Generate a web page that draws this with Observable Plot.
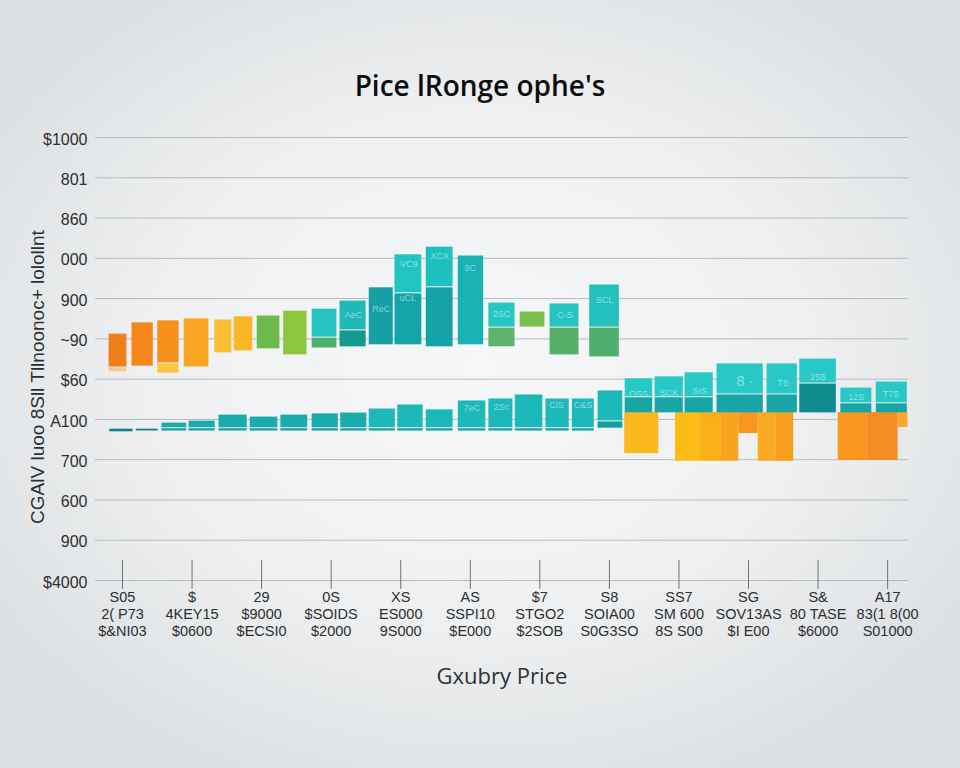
<!DOCTYPE html>
<html>
<head>
<meta charset="utf-8">
<script src="https://cdn.jsdelivr.net/npm/d3@7"></script>
<script src="https://cdn.jsdelivr.net/npm/@observablehq/plot@0.6"></script>
<style>
  html, body { margin: 0; padding: 0; width: 960px; height: 768px; overflow: hidden;
    background: radial-gradient(ellipse 62% 60% at 50% 48%, #f6f7f8 0%, #eef0f1 55%, #dcdfe2 100%); }
  #title { height: 120px; box-sizing: border-box; padding-top: 67px; text-align: center;
    font: 600 28px/36px "Open Sans", Lato, sans-serif; color: #0c0c0c; letter-spacing: 0px; }
  #chart svg { display: block; overflow: visible; }
</style>
</head>
<body>
<div id="title">Pice lRonge ophe's</div>
<div id="chart"></div>
<script>
// ---------- texts ----------
const chartTitle = "Pice lRonge ophe's";
const xTitle = "Gxubry Price";
const yTitle = "CGAlV luoo 8Sll Tllnoonoc+ lolollnt";
const yTickLabels = ["$4000", "900", "600", "700", "A100", "$60", "~90", "900", "000", "860", "801", "$1000"];
const xTickLabels = [
  "S05\n2( P73\n$&NI03", "$\n4KEY15\n$0600", "29\n$9000\n$ECSI0", "0S\n$SOIDS\n$2000",
  "XS\nES000\n9S000", "AS\nSSPI10\n$E000", "$7\nSTGO2\n$2SOB", "S8\nSOIA00\nS0G3SO",
  "SS7\nSM 600\n8S S00", "SG\nSOV13AS\n$I E00", "S&\n80 TASE\n$6000", "A17\n83(1 8(00\nS01000"
];

// ---------- upper floating range bars ----------
const upperStart = [0.80, 1.13, 1.50, 1.88, 2.32, 2.60, 2.93, 3.31, 3.72, 4.12, 4.54, 4.91, 5.36, 5.82, 6.26, 6.71, 7.14, 7.71];
const upperEnd   = [1.07, 1.45, 1.82, 2.25, 2.58, 2.88, 3.27, 3.66, 4.09, 4.51, 4.90, 5.31, 5.76, 6.20, 6.65, 7.08, 7.57, 8.15];
const upperLow   = [5.29, 5.31, 5.39, 5.29, 5.64, 5.69, 5.74, 5.59, 5.76, 5.79, 5.84, 5.84, 5.79, 5.84, 5.79, 6.28, 5.59, 5.54];
const upperSplit = [5.29, 5.31, 5.39, 5.29, 5.64, 5.69, 5.74, 5.59, 6.03, 6.21, 5.84, 7.13, 7.28, 5.84, 6.28, 6.28, 6.28, 6.28];
const upperHigh  = [6.13, 6.41, 6.46, 6.51, 6.48, 6.56, 6.58, 6.70, 6.75, 6.95, 7.28, 8.10, 8.29, 8.07, 6.90, 6.68, 6.88, 7.35];
const upperFloor = [5.17, 5.31, 5.14, 5.29, 5.64, 5.69, 5.74, 5.59, 5.76, 5.79, 5.84, 5.84, 5.79, 5.84, 5.79, 6.28, 5.59, 5.54];

// ---------- lower teal bars ----------
const lowerStart = [0.81, 1.19, 1.56, 1.95, 2.38, 2.83, 3.27, 3.72, 4.13, 4.54, 4.95, 5.36, 5.82, 6.26, 6.64, 7.08, 7.46, 7.83, 8.22, 8.65, 9.08, 9.54, 10.26, 10.73, 11.32, 11.83];
const lowerEnd   = [1.16, 1.52, 1.93, 2.34, 2.80, 3.24, 3.67, 4.11, 4.52, 4.93, 5.33, 5.76, 6.23, 6.62, 7.05, 7.43, 7.79, 8.20, 8.63, 9.07, 9.50, 10.22, 10.71, 11.27, 11.78, 12.29];
const lowerBase  = [3.68, 3.70, 3.70, 3.70, 3.70, 3.70, 3.70, 3.70, 3.70, 3.70, 3.70, 3.70, 3.70, 3.70, 3.70, 3.70, 3.70, 3.77, 4.15, 4.15, 4.15, 4.15, 4.15, 4.15, 4.15, 4.15];
const lowerSplit = [3.68, 3.70, 3.78, 3.78, 3.78, 3.78, 3.78, 3.78, 3.78, 3.78, 3.78, 3.78, 3.78, 3.78, 3.78, 3.78, 3.78, 3.95, 4.55, 4.55, 4.55, 4.62, 4.62, 4.89, 4.40, 4.40];
const lowerTop   = [3.77, 3.77, 3.92, 3.97, 4.12, 4.07, 4.12, 4.15, 4.17, 4.27, 4.37, 4.25, 4.47, 4.52, 4.62, 4.52, 4.52, 4.72, 5.02, 5.07, 5.17, 5.39, 5.39, 5.51, 4.79, 4.94];

// ---------- lower orange bars (below the teal row) ----------
const orangeStart = [8.22, 8.95, 9.31, 9.60, 9.86, 10.14, 10.40, 11.29, 11.70, 12.15];
const orangeEnd   = [8.71, 9.31, 9.60, 9.86, 10.14, 10.40, 10.65, 11.70, 12.15, 12.29];
const orangeTop   = [4.17, 4.17, 4.17, 4.17, 4.17, 4.17, 4.17, 4.17, 4.17, 4.17];
const orangeLow   = [3.15, 2.96, 2.96, 2.96, 3.65, 2.96, 2.96, 2.98, 2.98, 3.80];

// ---------- faint labels inside bars ----------
const barLabelText = ["AeC", "ReC", "uCL", "VC9", "XCX", "9C", "2SC", "C-S", "SCL", "7eC", "2Sc", "ClS", "C&S", "OSS", "SCK", "SrS", "8 ·", "TS", "2S5", "12S", "T7S"];
const barLabelX    = [4.32, 4.72, 5.10, 5.12, 5.56, 6.00, 6.45, 7.36, 7.93, 6.02, 6.45, 7.24, 7.62, 8.42, 8.86, 9.30, 9.95, 10.50, 11.00, 11.55, 12.05];
const barLabelY    = [6.60, 6.75, 7.00, 7.85, 8.05, 7.75, 6.62, 6.58, 6.95, 4.27, 4.30, 4.35, 4.35, 4.62, 4.65, 4.70, 4.95, 4.90, 5.05, 4.55, 4.62];

// ---------- palettes (styling) ----------
const upperTopColors = ["#f07e19", "#f5861b", "#f68f1c", "#f9a622", "#fbbd33", "#fab625", "#6cb94c", "#8cc640",
  "#25c2bf", "#1fbab8", "#169fa4", "#22c4c3", "#1fc0c0", "#18b2b5", "#25c6c3", "#7cbf53", "#25c4c0", "#22c1bd"];
const upperBottomColors = ["#f07e19", "#f5861b", "#f68f1c", "#f9a622", "#fbbd33", "#fab625", "#6cb94c", "#8cc640",
  "#4caf6a", "#139a8c", "#169fa4", "#14a5a9", "#13a2a6", "#18b2b5", "#5db56b", "#7cbf53", "#56b06a", "#4eb06c"];
const upperFloorColors = ["#f8c79a", null, "#fbc63d"];
const lowerTopColors = (i) => i < 2 ? "#177f87" : i < 9 ? "#1aabae" : i < 18 ? "#1db8b9" : "#27c8c5";
const lowerBottomColors = (i) => i < 2 ? "#177f87" : i < 18 ? "#149ea3" : i === 23 ? "#0f8b8e" : "#17a5a6";
const orangeColors = ["#fbb81e", "#fdbc17", "#fbb01a", "#f9a41c", "#f7961c", "#f9ab22", "#f69f1e", "#f7951d", "#f58e20", "#fba72a"];

// ---------- build tables ----------
const upperFloorSegs = upperStart.map((s, i) => ({x1: s, x2: upperEnd[i], y1: upperFloor[i], y2: upperLow[i], fill: upperFloorColors[i]}))
  .filter(d => d.fill && d.y2 > d.y1);
const upperBottomSegs = upperStart.map((s, i) => ({x1: s, x2: upperEnd[i], y1: upperLow[i], y2: upperSplit[i], fill: upperBottomColors[i]}))
  .filter(d => d.y2 > d.y1);
const upperTopSegs = upperStart.map((s, i) => ({x1: s, x2: upperEnd[i], y1: upperSplit[i], y2: upperHigh[i], fill: upperTopColors[i]}));
const lowerBottomSegs = lowerStart.map((s, i) => ({x1: s, x2: lowerEnd[i], y1: lowerBase[i], y2: lowerSplit[i], fill: lowerBottomColors(i)}))
  .filter(d => d.y2 > d.y1);
const lowerTopSegs = lowerStart.map((s, i) => ({x1: s, x2: lowerEnd[i], y1: lowerSplit[i], y2: lowerTop[i], fill: lowerTopColors(i)}));
const orangeSegs = orangeStart.map((s, i) => ({x1: s, x2: orangeEnd[i], y1: orangeLow[i], y2: orangeTop[i], fill: orangeColors[i]}));
const barLabels = barLabelText.map((t, i) => ({text: t, x: barLabelX[i], y: barLabelY[i]}));
const yTicks = d3.range(yTickLabels.length);
const xTicks = d3.range(1, xTickLabels.length + 1);

const font = "'Liberation Sans', Arial, sans-serif";

const chart = Plot.plot({
  width: 960,
  height: 648,
  marginTop: 17,
  marginBottom: 188,
  marginLeft: 95,
  marginRight: 52,
  style: {background: "transparent", fontFamily: font, overflow: "visible"},
  x: {domain: [0.612, 12.30], axis: null},
  y: {domain: [0, 11], axis: null},
  color: {type: "identity"},
  marks: [
    Plot.ruleY(yTicks, {stroke: "#b7babe", strokeWidth: 1}),
    Plot.ruleX(xTicks, {y1: -0.22, y2: 0.5, stroke: "#6f7275", strokeWidth: 1}),
    Plot.text(yTickLabels, {frameAnchor: "left", y: (d, i) => i, dx: -8, dy: 2, textAnchor: "end",
      fontSize: 16, fill: "#2d2f31"}),
    Plot.text(xTickLabels, {x: (d, i) => i + 1, y: 0, dy: 10, lineAnchor: "top", lineHeight: 1.15,
      fontSize: 14.5, fill: "#2d2f31"}),
    Plot.rect(upperFloorSegs, {x1: "x1", x2: "x2", y1: "y1", y2: "y2", fill: "fill", inset: 0.5}),
    Plot.rect(upperBottomSegs, {x1: "x1", x2: "x2", y1: "y1", y2: "y2", fill: "fill", inset: 0.5}),
    Plot.rect(upperTopSegs, {x1: "x1", x2: "x2", y1: "y1", y2: "y2", fill: "fill", inset: 0.5}),
    Plot.rect(orangeSegs, {x1: "x1", x2: "x2", y1: "y1", y2: "y2", fill: "fill"}),
    Plot.rect(lowerBottomSegs, {x1: "x1", x2: "x2", y1: "y1", y2: "y2", fill: "fill", inset: 0.5}),
    Plot.rect(lowerTopSegs, {x1: "x1", x2: "x2", y1: "y1", y2: "y2", fill: "fill", inset: 0.5}),
    Plot.text(barLabels, {x: "x", y: "y", text: "text", fontSize: (d) => d.text.startsWith("8") ? 15 : 9,
      fill: "#e8fbfa", fillOpacity: 0.55}),
    Plot.text([yTitle], {frameAnchor: "left", textAnchor: "middle", lineAnchor: "middle", dx: -58, dy: 18,
      rotate: -90, fontSize: 19, fill: "#2d2f31"}),
    Plot.text([xTitle], {frameAnchor: "bottom", lineAnchor: "middle", dy: 96, fontSize: 22, fill: "#2f3133",
      fontFamily: "'Open Sans', Lato, sans-serif"})
  ]
});
document.getElementById("title").textContent = chartTitle;
document.getElementById("chart").appendChild(chart);
</script>
</body>
</html>
